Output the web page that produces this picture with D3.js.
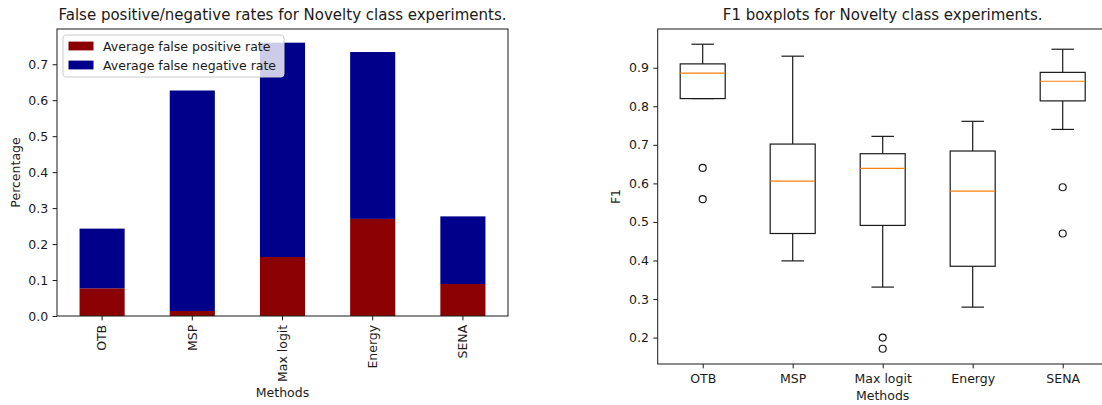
<!DOCTYPE html>
<html>
<head>
<meta charset="utf-8">
<script src="https://cdn.jsdelivr.net/npm/d3@7"></script>
<style>
  html, body { margin: 0; padding: 0; background: #fff; }
  svg { display: block; font-family: "DejaVu Sans", sans-serif; }
</style>
</head>
<body>
<svg id="fig" width="1102" height="405"></svg>
<script>
// ---- data ----
const methods = ["OTB", "MSP", "Max logit", "Energy", "SENA"];
const falsePositive = [0.077, 0.014, 0.164, 0.270, 0.089];
const falseNegative = [0.166, 0.613, 0.596, 0.464, 0.188];
const seriesNames = ["Average false positive rate", "Average false negative rate"];
const seriesColors = ["#8b0000", "#00008b"];
const rateTicks = [0.0, 0.1, 0.2, 0.3, 0.4, 0.5, 0.6, 0.7];

// F1 box summaries per method
const f1WhiskerLow  = [0.820, 0.399, 0.331, 0.279, 0.740];
const f1Q1          = [0.820, 0.470, 0.491, 0.385, 0.814];
const f1Median      = [0.886, 0.606, 0.639, 0.580, 0.865];
const f1Q3          = [0.910, 0.702, 0.677, 0.684, 0.888];
const f1WhiskerHigh = [0.961, 0.930, 0.722, 0.761, 0.948];
const f1Outliers    = [[0.640, 0.559], [], [0.200, 0.171], [], [0.590, 0.470]];
const f1Ticks = [0.2, 0.3, 0.4, 0.5, 0.6, 0.7, 0.8, 0.9];

const svg = d3.select("#fig");
const INK = "#1a1a1a";
const TICK_FS = 12.5, LABEL_FS = 12.5, TITLE_FS = 15, LEGEND_FS = 12.5;
const TICK_LEN = 4.4, TICK_PAD = 4.4;

function styleAxis(g) {
  g.selectAll("path.domain").remove();
  g.selectAll(".tick line").attr("stroke", INK).attr("stroke-width", 1);
  g.selectAll(".tick text").attr("fill", INK).attr("font-size", TICK_FS)
    .attr("font-family", "DejaVu Sans, sans-serif");
}

// ---------- left: stacked bars ----------
{
  const L = { x0: 57, x1: 508, y0: 29, y1: 316 };
  const totals = methods.map((m, i) => falsePositive[i] + falseNegative[i]);
  const yMax = d3.max(totals) * 1.05;
  const x = d3.scaleBand().domain(methods).range([L.x0, L.x1]).paddingInner(0.5).paddingOuter(0.25);
  const y = d3.scaleLinear().domain([0, yMax]).range([L.y1, L.y0]);

  const g = svg.append("g");
  const stackData = methods.map((m, i) => ({ method: m, fp: falsePositive[i], fn: falseNegative[i] }));
  const stacked = d3.stack().keys(["fp", "fn"])(stackData);

  stacked.forEach((layer, li) => {
    g.append("g").selectAll("rect").data(layer).join("rect")
      .attr("x", d => x(d.data.method))
      .attr("width", x.bandwidth())
      .attr("y", d => y(d[1]))
      .attr("height", d => y(d[0]) - y(d[1]))
      .attr("fill", seriesColors[li]);
  });

  const ya = g.append("g").attr("transform", `translate(${L.x0},0)`)
    .call(d3.axisLeft(y).tickValues(rateTicks).tickFormat(d3.format(".1f")).tickSize(TICK_LEN).tickPadding(TICK_PAD));
  styleAxis(ya);

  const xa = g.append("g").attr("transform", `translate(0,${L.y1})`)
    .call(d3.axisBottom(x).tickSize(TICK_LEN).tickPadding(TICK_PAD));
  styleAxis(xa);
  xa.selectAll(".tick text")
    .attr("transform", "rotate(-90)")
    .attr("text-anchor", "end")
    .attr("x", -(TICK_LEN + TICK_PAD)).attr("y", 0).attr("dy", "0.35em");

  g.append("rect").attr("x", L.x0).attr("y", L.y0)
    .attr("width", L.x1 - L.x0).attr("height", L.y1 - L.y0)
    .attr("fill", "none").attr("stroke", INK).attr("stroke-width", 1);

  g.append("text").attr("x", (L.x0 + L.x1) / 2).attr("y", 20)
    .attr("text-anchor", "middle").attr("font-size", TITLE_FS).attr("fill", INK)
    .text("False positive/negative rates for Novelty class experiments.");
  g.append("text").attr("x", (L.x0 + L.x1) / 2).attr("y", 397)
    .attr("text-anchor", "middle").attr("font-size", LABEL_FS).attr("fill", INK)
    .text("Methods");
  g.append("text").attr("transform", `translate(20,${(L.y0 + L.y1) / 2}) rotate(-90)`)
    .attr("text-anchor", "middle").attr("font-size", LABEL_FS).attr("fill", INK)
    .text("Percentage");

  // legend
  const lg = g.append("g").attr("transform", "translate(63,35)");
  lg.append("rect").attr("width", 221).attr("height", 42).attr("rx", 3)
    .attr("fill", "#fff").attr("fill-opacity", 0.8)
    .attr("stroke", "#cccccc").attr("stroke-width", 1);
  seriesNames.forEach((name, i) => {
    const row = lg.append("g").attr("transform", `translate(0,${11 + i * 19})`);
    row.append("rect").attr("x", 5.5).attr("y", -4.4).attr("width", 25).attr("height", 8.8)
      .attr("fill", seriesColors[i]);
    row.append("text").attr("x", 40).attr("y", 0).attr("dy", "0.36em")
      .attr("font-size", LEGEND_FS).attr("fill", INK).text(name);
  });
}

// ---------- right: F1 boxplots ----------
{
  const R = { x0: 657.7, x1: 1107.7, y0: 29, y1: 364 };
  const all = f1WhiskerLow.concat(f1WhiskerHigh, f1Outliers.flat());
  const lo = d3.min(all), hi = d3.max(all), m = (hi - lo) * 0.05;
  const x = d3.scalePoint().domain(methods).range([R.x0, R.x1]).padding(0.5);
  const y = d3.scaleLinear().domain([lo - m, hi + m]).range([R.y1, R.y0]);
  const boxW = 45, capW = 22.5;

  const g = svg.append("g");
  const ya = g.append("g").attr("transform", `translate(${R.x0},0)`)
    .call(d3.axisLeft(y).tickValues(f1Ticks).tickFormat(d3.format(".1f")).tickSize(TICK_LEN).tickPadding(TICK_PAD));
  styleAxis(ya);
  const xa = g.append("g").attr("transform", `translate(0,${R.y1})`)
    .call(d3.axisBottom(x).tickSize(TICK_LEN).tickPadding(TICK_PAD + 1));
  styleAxis(xa);

  methods.forEach((mth, i) => {
    const cx = x(mth);
    const bg = g.append("g").attr("stroke", INK).attr("stroke-width", 1.2).attr("fill", "none");
    // whiskers
    bg.append("line").attr("x1", cx).attr("x2", cx).attr("y1", y(f1Q3[i])).attr("y2", y(f1WhiskerHigh[i]));
    bg.append("line").attr("x1", cx).attr("x2", cx).attr("y1", y(f1Q1[i])).attr("y2", y(f1WhiskerLow[i]));
    // caps
    bg.append("line").attr("x1", cx - capW / 2).attr("x2", cx + capW / 2)
      .attr("y1", y(f1WhiskerHigh[i])).attr("y2", y(f1WhiskerHigh[i]));
    bg.append("line").attr("x1", cx - capW / 2).attr("x2", cx + capW / 2)
      .attr("y1", y(f1WhiskerLow[i])).attr("y2", y(f1WhiskerLow[i]));
    // box
    bg.append("rect").attr("x", cx - boxW / 2).attr("width", boxW)
      .attr("y", y(f1Q3[i])).attr("height", y(f1Q1[i]) - y(f1Q3[i]));
    // median
    g.append("line").attr("x1", cx - boxW / 2).attr("x2", cx + boxW / 2)
      .attr("y1", y(f1Median[i])).attr("y2", y(f1Median[i]))
      .attr("stroke", "#ff7f0e").attr("stroke-width", 1.2);
    // fliers
    g.append("g").selectAll("circle").data(f1Outliers[i]).join("circle")
      .attr("cx", cx).attr("cy", d => y(d)).attr("r", 3.5)
      .attr("fill", "none").attr("stroke", INK).attr("stroke-width", 1.2);
  });

  g.append("rect").attr("x", R.x0).attr("y", R.y0)
    .attr("width", R.x1 - R.x0).attr("height", R.y1 - R.y0)
    .attr("fill", "none").attr("stroke", INK).attr("stroke-width", 1);

  g.append("text").attr("x", (R.x0 + R.x1) / 2).attr("y", 20)
    .attr("text-anchor", "middle").attr("font-size", TITLE_FS).attr("fill", INK)
    .text("F1 boxplots for Novelty class experiments.");
  g.append("text").attr("x", (R.x0 + R.x1) / 2).attr("y", 399.5)
    .attr("text-anchor", "middle").attr("font-size", LABEL_FS).attr("fill", INK)
    .text("Methods");
  g.append("text").attr("transform", `translate(620,${(R.y0 + R.y1) / 2}) rotate(-90)`)
    .attr("text-anchor", "middle").attr("font-size", LABEL_FS).attr("fill", INK)
    .text("F1");
}
</script>
</body>
</html>
